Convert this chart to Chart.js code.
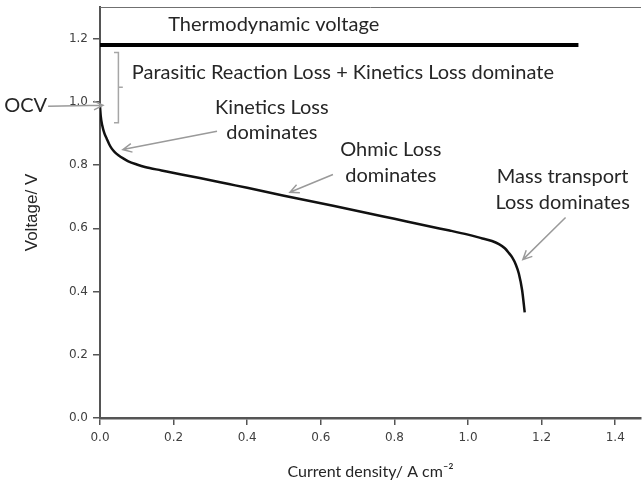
<!DOCTYPE html>
<html>
<head>
<meta charset="utf-8">
<script src="https://cdn.jsdelivr.net/npm/chart.js@4.4.0/dist/chart.umd.min.js"></script>
<style>
  html, body { margin: 0; padding: 0; background: #fff; }
  #wrap { width: 642px; height: 481px; position: relative; }
</style>
</head>
<body>
<div id="wrap"><canvas id="chart"></canvas></div>
<script>
// Polarization curve (current density in A cm-2, voltage in V)
const currentDensity = [0, 0.002, 0.006, 0.012, 0.018, 0.025, 0.032, 0.04, 0.05, 0.063, 0.077, 0.1, 0.122, 0.167, 0.221, 0.271,
    0.35, 0.4, 0.5, 0.6, 0.7, 0.8, 0.9, 0.95, 1.0, 1.039, 1.065, 1.084, 1.1, 1.111, 1.12, 1.13, 1.138, 1.147, 1.154];
const voltage = [0.986, 0.955, 0.926, 0.900, 0.884, 0.866, 0.852, 0.841, 0.831, 0.821, 0.812, 0.802, 0.794, 0.783, 0.770, 0.759,
    0.740, 0.728, 0.703, 0.679, 0.655, 0.630, 0.605, 0.593, 0.580, 0.568, 0.560, 0.550, 0.537, 0.522, 0.508, 0.485, 0.457, 0.404, 0.334];

// Thermodynamic voltage line
const thermoX = [0, 1.3];
const thermoY = [1.18, 1.18];

// Tick values
const xTicks = [0, 0.2, 0.4, 0.6, 0.8, 1.0, 1.2, 1.4];
const yTicks = [0, 0.2, 0.4, 0.6, 0.8, 1.0, 1.2];

// Text notes, placed in data units
const notes = [
    { text: 'Thermodynamic voltage', x: 0.472, y: 1.245 },
    { text: 'Parasitic Reaction Loss + Kinetics Loss dominate', x: 0.66, y: 1.093 },
    { text: 'OCV', x: -0.202, y: 0.989 },
    { text: 'Kinetics Loss', x: 0.467, y: 0.982 },
    { text: 'dominates', x: 0.467, y: 0.903 },
    { text: 'Ohmic Loss', x: 0.79, y: 0.849 },
    { text: 'dominates', x: 0.79, y: 0.767 },
    { text: 'Mass transport', x: 1.257, y: 0.764 },
    { text: 'Loss dominates', x: 1.257, y: 0.681 }
];

// Arrows: [fromX, fromY, toX, toY]
const arrows = [
    [-0.141, 0.986, 0.008, 0.989],
    [0.318, 0.907, 0.062, 0.849],
    [0.633, 0.770, 0.516, 0.714],
    [1.265, 0.634, 1.149, 0.501]
];

function drawArrow(ctx, x1, y1, x2, y2) {
    const ang = Math.atan2(y2 - y1, x2 - x1);
    const len = 10;
    ctx.beginPath();
    ctx.moveTo(x1, y1);
    ctx.lineTo(x2, y2);
    ctx.moveTo(x2 - len * Math.cos(ang - 0.45), y2 - len * Math.sin(ang - 0.45));
    ctx.lineTo(x2, y2);
    ctx.lineTo(x2 - len * Math.cos(ang + 0.45), y2 - len * Math.sin(ang + 0.45));
    ctx.stroke();
}

const notesPlugin = {
    id: 'notes',
    afterDraw(chart) {
        const ctx = chart.ctx;
        const xs = chart.scales.x;
        const ys = chart.scales.y;
        const area = chart.chartArea;
        ctx.save();

        // top frame line
        ctx.strokeStyle = '#707070';
        ctx.lineWidth = 1;
        ctx.beginPath();
        ctx.moveTo(area.left, area.top + 0.5);
        ctx.lineTo(area.right, area.top + 0.5);
        ctx.stroke();

        // bracket next to the loss text
        const bx = xs.getPixelForValue(0.05);
        ctx.strokeStyle = '#a6a6a6';
        ctx.lineWidth = 1.5;
        ctx.beginPath();
        ctx.moveTo(xs.getPixelForValue(0.038), ys.getPixelForValue(1.156));
        ctx.lineTo(bx, ys.getPixelForValue(1.156));
        ctx.lineTo(bx, ys.getPixelForValue(0.934));
        ctx.lineTo(xs.getPixelForValue(0.038), ys.getPixelForValue(0.934));
        ctx.moveTo(bx, ys.getPixelForValue(1.046));
        ctx.lineTo(xs.getPixelForValue(0.062), ys.getPixelForValue(1.046));
        ctx.stroke();

        // arrows
        ctx.strokeStyle = '#9a9a9a';
        ctx.lineWidth = 1.5;
        arrows.forEach(a => {
            drawArrow(ctx, xs.getPixelForValue(a[0]), ys.getPixelForValue(a[1]),
                xs.getPixelForValue(a[2]), ys.getPixelForValue(a[3]));
        });

        // text
        ctx.fillStyle = '#262626';
        ctx.font = '20px Lato';
        ctx.textAlign = 'center';
        ctx.textBaseline = 'middle';
        notes.forEach(n => {
            ctx.fillText(n.text, xs.getPixelForValue(n.x), ys.getPixelForValue(n.y));
        });
        ctx.restore();
    }
};

const tickFont = { family: 'DejaVu Sans', size: 12 };

new Chart(document.getElementById('chart'), {
    type: 'scatter',
    data: {
        datasets: [
            {
                data: thermoX.map((x, i) => ({ x: x, y: thermoY[i] })),
                showLine: true,
                borderColor: '#000',
                borderWidth: 4,
                pointRadius: 0
            },
            {
                data: currentDensity.map((x, i) => ({ x: x, y: voltage[i] })),
                showLine: true,
                borderColor: '#111',
                borderWidth: 2.5,
                pointRadius: 0,
                cubicInterpolationMode: 'monotone'
            }
        ]
    },
    options: {
        responsive: true,
        maintainAspectRatio: false,
        animation: false,
        layout: { padding: { left: 0, right: 1, top: 7, bottom: 0 } },
        plugins: {
            legend: { display: false },
            tooltip: { enabled: false }
        },
        scales: {
            x: {
                type: 'linear',
                min: 0,
                max: 1.47,
                afterBuildTicks: s => { s.ticks = xTicks.map(v => ({ value: v })); },
                afterFit: s => { s.height = 63; s.paddingLeft = 0; s.paddingRight = 0; },
                border: { display: true, color: '#555', width: 2.5 },
                grid: { drawOnChartArea: false, drawTicks: true, tickLength: 7, color: '#555', lineWidth: 1.5 },
                ticks: { padding: 6, color: '#404040', font: tickFont, callback: v => v.toFixed(1), maxRotation: 0 },
                title: {
                    display: true,
                    text: 'Current density/ A cm⁻²',
                    color: '#262626',
                    font: { family: 'Lato', size: 16 },
                    padding: { top: 0, bottom: 0 }
                }
            },
            y: {
                type: 'linear',
                min: 0,
                max: 1.3,
                afterBuildTicks: s => { s.ticks = yTicks.map(v => ({ value: v })); },
                afterFit: s => { s.width = 100; s.paddingTop = 0; s.paddingBottom = 0; },
                border: { display: true, color: '#555', width: 2 },
                grid: { drawOnChartArea: false, drawTicks: true, tickLength: 7, color: '#555', lineWidth: 1.5 },
                ticks: { padding: 5, color: '#404040', font: tickFont, callback: v => v.toFixed(1) },
                title: {
                    display: true,
                    text: 'Voltage/ V',
                    color: '#262626',
                    font: { family: 'Liberation Sans', size: 17 },
                    padding: { top: 22, bottom: 0 }
                }
            }
        }
    },
    plugins: [notesPlugin]
});
</script>
</body>
</html>
